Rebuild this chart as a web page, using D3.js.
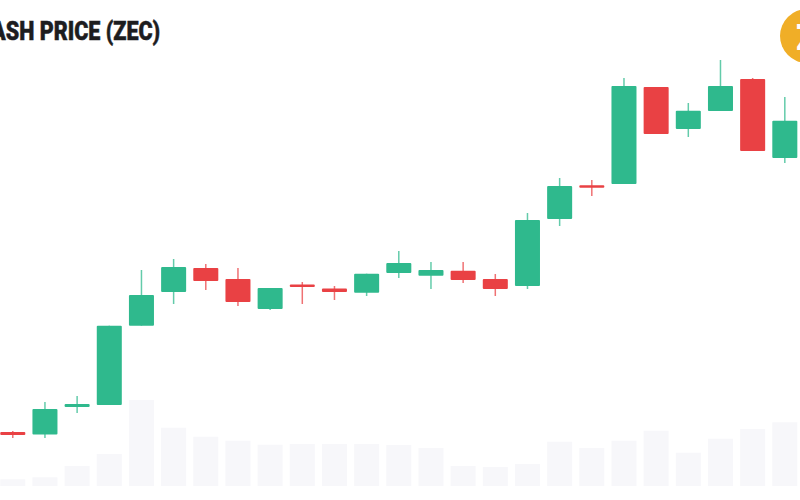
<!DOCTYPE html>
<html>
<head>
<meta charset="utf-8">
<script src="https://cdn.jsdelivr.net/npm/d3@7"></script>
<style>
  html, body { margin: 0; padding: 0; background: #fff; overflow: hidden; }
  svg { display: block; }
</style>
</head>
<body>
<svg id="chart" width="800" height="500"></svg>
<script>
// values, the price axis is not shown so units are relative
const open_ = [27, 25.75, 39.5, 40.5, 80.15, 97, 109, 103.5, 88.5, 100.75, 98.75, 96.65, 106.5, 105.15, 107.65, 103.5, 100, 133.5, 150.4, 151, 199.5, 178.5, 187.5, 203.5, 164];
const close_ = [25.5, 38.5, 41, 80.15, 95.5, 109.5, 102.5, 92, 99, 99.5, 97, 106.15, 111.5, 108, 103, 98.5, 133, 150, 149.15, 200, 176, 187.65, 200, 167.5, 182.65];
const high = [27.5, 42, 45, 80.15, 108, 113.5, 111, 109, 99, 102, 100, 106.15, 117.5, 112, 112, 106, 136.5, 154, 153, 204, 199.5, 191.5, 213, 204, 194.5];
const low = [24, 24, 36.5, 40.5, 80.15, 91, 98, 90, 88, 91, 93, 95, 104, 98.5, 101.5, 95, 98.5, 130, 145, 151, 176, 174.5, 187.5, 167.5, 161.5];
const volume = [6.7, 8.7, 20, 32, 86, 58.3, 49.3, 45.3, 41.3, 42, 42, 42, 41, 38, 20, 19, 22, 44.3, 38, 45.3, 55.3, 33.3, 47.3, 57, 63.7];
const titleText = 'ZCASH PRICE (ZEC)';

const up = '#2fb98d', down = '#e94144';

const svg = d3.select('#chart');

const days = d3.range(open_.length);

const xScale = d3.scaleBand()
    .domain(days)
    .range([-3.3, 800.9])
    .paddingInner(0.222)
    .paddingOuter(0.111);

const yScale = d3.scaleLinear().domain([0, 243]).range([486, 0]);
const volScale = d3.scaleLinear().domain([0, 100]).range([486, 386]);

// volume bars go behind the candles
svg.append('g').selectAll('rect')
    .data(days)
    .join('rect')
    .attr('x', d => xScale(d))
    .attr('y', d => volScale(volume[d]))
    .attr('width', xScale.bandwidth())
    .attr('height', d => volScale(0) - volScale(volume[d]))
    .attr('fill', '#f7f7fa');

const candle = svg.append('g').selectAll('g')
    .data(days)
    .join('g')
    .attr('fill', d => close_[d] >= open_[d] ? up : down)
    .attr('stroke', d => close_[d] >= open_[d] ? up : down);

candle.append('line')
    .attr('x1', d => xScale(d) + xScale.bandwidth() / 2)
    .attr('x2', d => xScale(d) + xScale.bandwidth() / 2)
    .attr('y1', d => yScale(high[d]))
    .attr('y2', d => yScale(low[d]))
    .attr('stroke-width', 1.5)
    .attr('stroke-opacity', 0.75);

candle.append('rect')
    .attr('x', d => xScale(d))
    .attr('y', d => yScale(Math.max(open_[d], close_[d])))
    .attr('width', xScale.bandwidth())
    .attr('height', d => Math.abs(yScale(open_[d]) - yScale(close_[d])))
    .attr('rx', 1)
    .attr('stroke', 'none');

svg.append('text')
    .attr('x', 160)
    .attr('y', 40)
    .attr('text-anchor', 'end')
    .attr('font-family', 'Roboto, sans-serif')
    .attr('font-weight', 900)
    .attr('font-size', 25)
    .attr('fill', '#1d1d1f')
    .attr('stroke', '#1d1d1f')
    .attr('stroke-width', 0.5)
    .attr('textLength', 196)
    .attr('lengthAdjust', 'spacingAndGlyphs')
    .text(titleText);

// coin badge, cut off by the right edge
svg.append('circle')
    .attr('cx', 807)
    .attr('cy', 36)
    .attr('r', 27)
    .attr('fill', '#f0ae27');

svg.append('text')
    .attr('x', 796)
    .attr('y', 50)
    .attr('font-family', 'Roboto, sans-serif')
    .attr('font-weight', 900)
    .attr('font-size', 36)
    .attr('fill', '#fff')
    .text('Z');
</script>
</body>
</html>
